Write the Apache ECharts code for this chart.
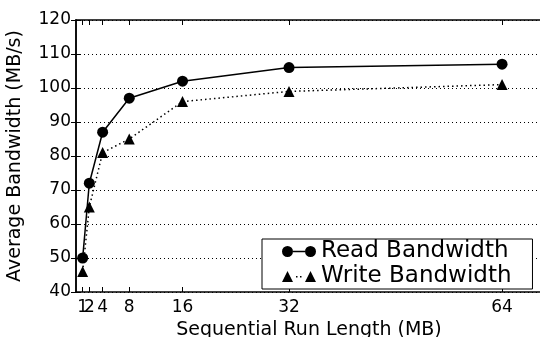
<!DOCTYPE html>
<html>
<head>
<meta charset="utf-8">
<script src="https://cdn.jsdelivr.net/npm/echarts@6/dist/echarts.min.js"></script>
<style>
  html, body { margin: 0; padding: 0; background: #fff; }
  #chart { width: 540px; height: 337px; }
</style>
</head>
<body>
<div id="chart"></div>
<script>
// run length (MB) and measured bandwidth (MB/s)
const runLengths = [1, 2, 4, 8, 16, 32, 64];
const readBw = [50, 72, 87, 97, 102, 106, 107];
const writeBw = [46, 65, 81, 85, 96, 99, 101];
const xTicks = [1, 2, 4, 8, 16, 32, 64];

const font = "DejaVu Sans";
const chart = echarts.init(document.getElementById("chart"));

// legend icons: marker - line - marker
const readIcon = "path://M0,5.5A5.5,5.5,0,1,1,11,5.5A5.5,5.5,0,1,1,0,5.5Z" +
  "M11,4.75L23,4.75L23,6.25L11,6.25Z" +
  "M23,5.5A5.5,5.5,0,1,1,34,5.5A5.5,5.5,0,1,1,23,5.5Z";
const writeIcon = "path://M0,11L5.5,0L11,11Z" +
  "M14,5L15.5,5L15.5,6.5L14,6.5Z M18,5L19.5,5L19.5,6.5L18,6.5Z" +
  "M23,11L28.5,0L34,11Z";

const pairs = (ys) => runLengths.map((x, i) => [x, ys[i]]);

const tickStyle = { color: "#000" };
const labelBase = { fontSize: 17, color: "#000", margin: 7, fontFamily: font };

const option = {
  animation: false,
  textStyle: { fontFamily: font },
  grid: { left: 76, right: -2, top: 20, bottom: 45, outerBoundsMode: "none", containLabel: false },
  xAxis: [
    {
      type: "value",
      min: 0,
      max: 70,
      name: "Sequential Run Length (MB)",
      nameLocation: "middle",
      nameGap: 28,
      nameTextStyle: { fontSize: 19, color: "#000", fontFamily: font },
      axisLine: { lineStyle: { color: "#000", width: 1.5 } },
      axisTick: { inside: true, length: 5, customValues: xTicks, lineStyle: tickStyle },
      // "1" sits on its own axis below so it is not dropped for overlapping "2"
      axisLabel: Object.assign({ customValues: xTicks.slice(1) }, labelBase),
      splitLine: { show: false },
    },
    {
      type: "value",
      position: "top",
      min: 0,
      max: 70,
      axisLine: { show: true, lineStyle: { color: "#000", width: 1.5 } },
      axisTick: { inside: true, length: 5, customValues: xTicks, lineStyle: tickStyle },
      axisLabel: { show: false },
      splitLine: { show: false },
    },
    {
      type: "value",
      position: "bottom",
      min: 0,
      max: 70,
      axisLine: { show: false },
      axisTick: { show: false },
      axisLabel: Object.assign({ customValues: xTicks.slice(0, 1) }, labelBase),
      splitLine: { show: false },
    },
  ],
  yAxis: [
    {
      type: "value",
      min: 40,
      max: 120,
      interval: 10,
      name: "Average Bandwidth (MB/s)",
      nameLocation: "middle",
      nameGap: 51,
      nameTextStyle: { fontSize: 19, color: "#000", fontFamily: font },
      axisLine: { show: true, lineStyle: { color: "#000", width: 1.5 } },
      axisTick: { show: true, inside: true, length: 5, lineStyle: tickStyle },
      axisLabel: { fontSize: 17, color: "#000", margin: 5, fontFamily: font },
      splitLine: { show: true, lineStyle: { color: "#000", type: [1, 3], width: 1 } },
    },
    {
      type: "value",
      position: "right",
      min: 40,
      max: 120,
      interval: 10,
      axisLine: { show: true, lineStyle: { color: "#000", width: 1.5 } },
      axisTick: { show: true, inside: true, length: 5, lineStyle: tickStyle },
      axisLabel: { show: false },
      splitLine: { show: false },
    },
  ],
  legend: {
    left: 262,
    top: 239,
    orient: "vertical",
    itemWidth: 34,
    itemHeight: 11,
    itemGap: 2,
    padding: [1, 21, 1, 20],
    borderColor: "#000",
    borderWidth: 1,
    borderRadius: 0,
    backgroundColor: "#fff",
    textStyle: { fontSize: 23, color: "#000", fontFamily: font, lineHeight: 22 },
    data: [
      { name: "Read Bandwidth", icon: readIcon },
      { name: "Write Bandwidth", icon: writeIcon },
    ],
  },
  series: [
    {
      name: "Read Bandwidth",
      type: "line",
      data: pairs(readBw),
      symbol: "circle",
      symbolSize: 11,
      itemStyle: { color: "#000", borderWidth: 0 },
      lineStyle: { color: "#000", width: 1.5 },
      z: 3,
    },
    {
      name: "Write Bandwidth",
      type: "line",
      data: pairs(writeBw),
      symbol: "triangle",
      symbolSize: 11,
      itemStyle: { color: "#000", borderWidth: 0 },
      lineStyle: { color: "#000", width: 1.5, type: [1.5, 3] },
      z: 2,
    },
  ],
};

chart.setOption(option);
</script>
</body>
</html>
